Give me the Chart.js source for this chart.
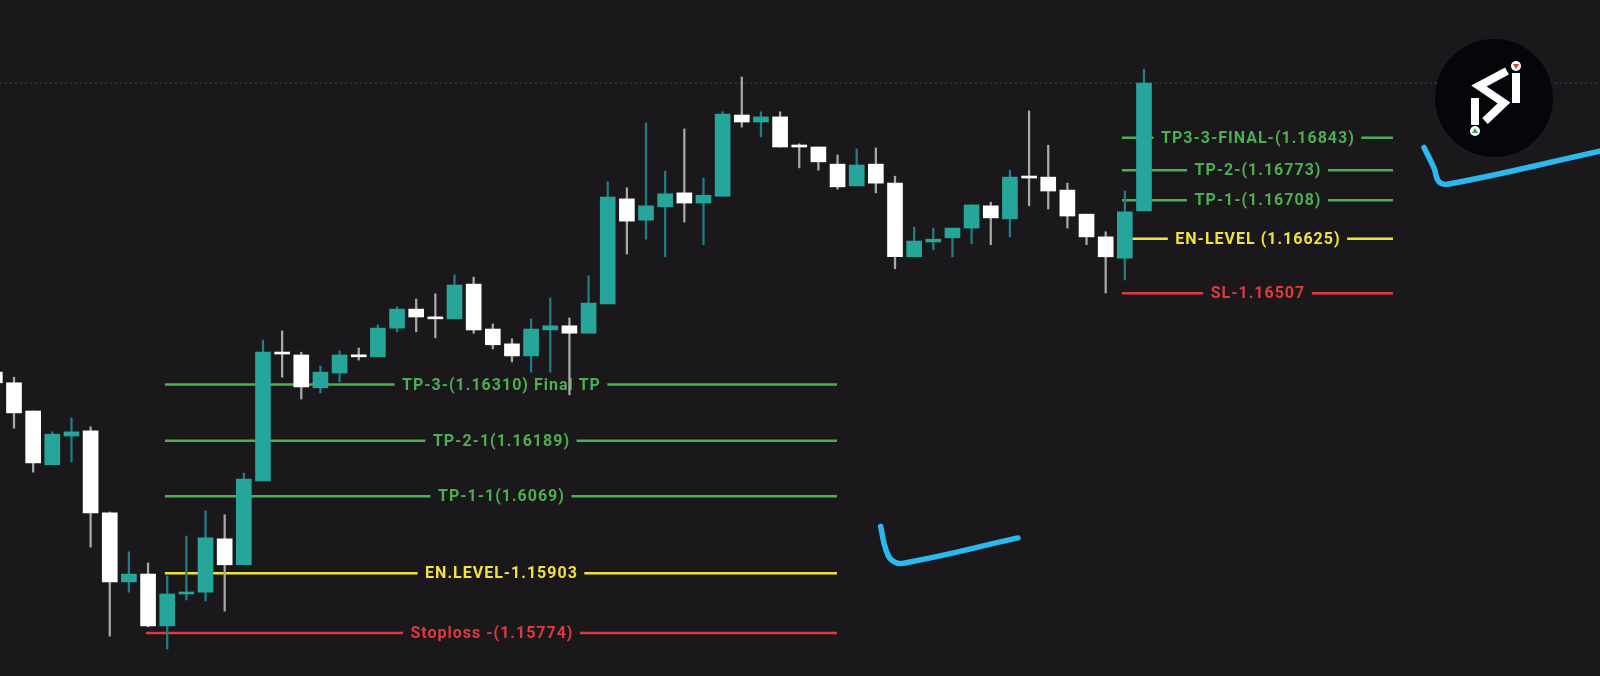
<!DOCTYPE html>
<html>
<head>
    <meta charset="utf-8">
    <title>EURUSD levels</title>
    <script src="https://cdn.jsdelivr.net/npm/chart.js"></script>
    <style>
        html, body { margin: 0; padding: 0; background: #1a181b; }
        .box { width: 1600px; height: 676px; position: relative; }
    </style>
</head>
<body>
    <div class="box">
        <canvas id="priceChart"></canvas>
    </div>
    <script>
        // candles, oldest first (teal = up, white = down)
        const opens  = [1.16337, 1.16314, 1.16253, 1.16137, 1.16199, 1.16210, 1.16033, 1.15884, 1.15901, 1.15789,
                        1.15858, 1.15862, 1.15977, 1.15921, 1.16102, 1.16380, 1.16374, 1.16303, 1.16335, 1.16374,
                        1.16370, 1.16432, 1.16473, 1.16456, 1.16452, 1.16527, 1.16430, 1.16398, 1.16372, 1.16428,
                        1.16437, 1.16421, 1.16484, 1.16711, 1.16665, 1.16694, 1.16724, 1.16702, 1.16717, 1.16892,
                        1.16877, 1.16888, 1.16825, 1.16823, 1.16786, 1.16739, 1.16786, 1.16745, 1.16586, 1.16618,
                        1.16627, 1.16648, 1.16696, 1.16668, 1.16760, 1.16758, 1.16730, 1.16678, 1.16629, 1.16583,
                        1.16685];
        const highs  = [1.16345, 1.16326, 1.16253, 1.16208, 1.16238, 1.16219, 1.16035, 1.15949, 1.15925, 1.15897,
                        1.15983, 1.16037, 1.16029, 1.16119, 1.16406, 1.16426, 1.16380, 1.16350, 1.16383, 1.16389,
                        1.16439, 1.16478, 1.16495, 1.16506, 1.16547, 1.16542, 1.16441, 1.16409, 1.16452, 1.16497,
                        1.16454, 1.16545, 1.16748, 1.16735, 1.16875, 1.16771, 1.16862, 1.16756, 1.16899, 1.16974,
                        1.16899, 1.16899, 1.16830, 1.16823, 1.16806, 1.16819, 1.16821, 1.16760, 1.16650, 1.16648,
                        1.16648, 1.16698, 1.16704, 1.16773, 1.16901, 1.16827, 1.16745, 1.16678, 1.16640, 1.16728,
                        1.16991];
        const lows   = [1.16310, 1.16216, 1.16121, 1.16137, 1.16143, 1.15959, 1.15767, 1.15862, 1.15787, 1.15739,
                        1.15845, 1.15843, 1.15821, 1.15921, 1.16102, 1.16326, 1.16279, 1.16292, 1.16316, 1.16363,
                        1.16370, 1.16424, 1.16424, 1.16411, 1.16452, 1.16421, 1.16387, 1.16359, 1.16337, 1.16337,
                        1.16288, 1.16421, 1.16484, 1.16592, 1.16624, 1.16586, 1.16661, 1.16612, 1.16717, 1.16866,
                        1.16845, 1.16823, 1.16778, 1.16773, 1.16732, 1.16739, 1.16724, 1.16560, 1.16586, 1.16601,
                        1.16586, 1.16614, 1.16612, 1.16629, 1.16696, 1.16689, 1.16648, 1.16612, 1.16508, 1.16536,
                        1.16685];
        const closes = [1.16314, 1.16249, 1.16141, 1.16203, 1.16208, 1.16033, 1.15884, 1.15901, 1.15789, 1.15858,
                        1.15862, 1.15979, 1.15921, 1.16106, 1.16380, 1.16376, 1.16305, 1.16337, 1.16374, 1.16370,
                        1.16432, 1.16473, 1.16456, 1.16452, 1.16525, 1.16428, 1.16396, 1.16372, 1.16430, 1.16437,
                        1.16421, 1.16486, 1.16715, 1.16663, 1.16696, 1.16722, 1.16702, 1.16719, 1.16894, 1.16877,
                        1.16888, 1.16823, 1.16823, 1.16791, 1.16737, 1.16784, 1.16745, 1.16586, 1.16620, 1.16624,
                        1.16648, 1.16698, 1.16670, 1.16758, 1.16756, 1.16728, 1.16674, 1.16629, 1.16586, 1.16683,
                        1.16961];

        // first trade setup (left)
        const leftLevels = [1.16310, 1.16189, 1.16069, 1.15903, 1.15774];
        const leftTexts  = ['TP-3-(1.16310) Final TP', 'TP-2-1(1.16189)', 'TP-1-1(1.6069)', 'EN.LEVEL-1.15903', 'Stoploss -(1.15774)'];
        const leftStart  = [8.88, 8.88, 8.88, 8.88, 7.89];
        const leftEnd    = 43.97;

        // second trade setup (right)
        const rightLevels = [1.16843, 1.16773, 1.16708, 1.16625, 1.16507];
        const rightTexts  = ['TP3-3-FINAL-(1.16843)', 'TP-2-(1.16773)', 'TP-1-(1.16708)', 'EN-LEVEL (1.16625)', 'SL-1.16507'];
        const rightStart  = 58.85;
        const rightEnd    = 73.0;

        const levelKinds = ['tp', 'tp', 'tp', 'entry', 'stop'];

        // hand drawn check marks
        const tick1 = [{x: 46.25, y: 1.16004}, {x: 46.53, y: 1.15953}, {x: 46.89, y: 1.15929}, {x: 47.52, y: 1.15925}, {x: 53.42, y: 1.15979}];
        const tick2 = [{x: 74.62, y: 1.16822}, {x: 75.14, y: 1.16778}, {x: 75.40, y: 1.16748}, {x: 75.92, y: 1.16743}, {x: 83.81, y: 1.16814}];

        const BG = '#1a181b';
        const UP = '#26a69a';
        const DOWN = '#ffffff';
        const kindColor = { tp: '#4caf50', entry: '#f2e23a', stop: '#e0393e' };

        const isUp = i => closes[i] >= opens[i];
        const bodies = opens.map((o, i) => ({ x: i, y: [o, closes[i]] }));
        const wicks = highs.map((h, i) => ({ x: i, y: [lows[i], h] }));

        const levelSets = [];
        leftLevels.forEach((v, i) => {
            levelSets.push({
                type: 'line',
                data: [{ x: leftStart[i], y: v }, { x: leftEnd, y: v }],
                borderColor: kindColor[levelKinds[i]],
                borderWidth: 2.5,
                pointRadius: 0,
                order: 2,
                levelText: leftTexts[i],
                labelAt: (leftStart[i] + leftEnd) / 2
            });
        });
        rightLevels.forEach((v, i) => {
            levelSets.push({
                type: 'line',
                data: [{ x: rightStart, y: v }, { x: rightEnd, y: v }],
                borderColor: kindColor[levelKinds[i]],
                borderWidth: 2.5,
                pointRadius: 0,
                order: 2,
                levelText: rightTexts[i],
                labelAt: (rightStart + rightEnd) / 2
            });
        });

        const lastPrice = closes[closes.length - 1];

        // gap + text on each level line, drawn before the candles
        const levelLabels = {
            id: 'levelLabels',
            afterDatasetDraw(chart, args) {
                const ds = chart.data.datasets[args.index];
                if (!ds.levelText) return;
                const ctx = chart.ctx;
                const x = chart.scales.x.getPixelForValue(ds.labelAt);
                const y = chart.scales.y.getPixelForValue(ds.data[0].y);
                ctx.save();
                ctx.font = 'bold 16px Roboto';
                ctx.letterSpacing = '1px';
                const w = ctx.measureText(ds.levelText).width;
                ctx.fillStyle = BG;
                ctx.fillRect(x - w / 2 - 7, y - 4, w + 14, 8);
                ctx.fillStyle = ds.borderColor;
                ctx.textAlign = 'center';
                ctx.textBaseline = 'middle';
                ctx.fillText(ds.levelText, x + 0.5, y + 1);
                ctx.restore();
            }
        };

        // channel logo, top right
        const logo = {
            id: 'logo',
            afterDraw(chart) {
                const ctx = chart.ctx;
                const cx = chart.width - 106, cy = 98;
                ctx.save();
                ctx.fillStyle = '#05060a';
                ctx.beginPath();
                ctx.arc(cx, cy, 59, 0, Math.PI * 2);
                ctx.fill();
                ctx.fillStyle = '#ffffff';
                ctx.fillRect(cx - 23, cy, 8, 27);
                ctx.fillRect(cx + 18, cy - 25, 8, 30);
                ctx.beginPath(); ctx.arc(cx - 19, cy + 33, 5, 0, Math.PI * 2); ctx.fill();
                ctx.beginPath(); ctx.arc(cx + 22, cy - 32, 5, 0, Math.PI * 2); ctx.fill();
                ctx.strokeStyle = '#ffffff';
                ctx.lineWidth = 8;
                ctx.lineJoin = 'miter';
                ctx.beginPath();
                ctx.moveTo(cx + 13, cy - 27);
                ctx.lineTo(cx - 15, cy - 12);
                ctx.lineTo(cx + 10, cy + 5);
                ctx.lineTo(cx - 9, cy + 23);
                ctx.stroke();
                ctx.fillStyle = '#2aa84a';
                ctx.beginPath(); ctx.moveTo(cx - 19, cy + 30); ctx.lineTo(cx - 22, cy + 35); ctx.lineTo(cx - 16, cy + 35); ctx.fill();
                ctx.fillStyle = '#e53935';
                ctx.beginPath(); ctx.moveTo(cx + 22, cy - 29); ctx.lineTo(cx + 19, cy - 34); ctx.lineTo(cx + 25, cy - 34); ctx.fill();
                ctx.restore();
            }
        };

        const ctx = document.getElementById('priceChart').getContext('2d');
        const priceChart = new Chart(ctx, {
            type: 'bar',
            data: {
                datasets: [
                    {
                        type: 'line',
                        data: tick1,
                        borderColor: '#2db7ef',
                        borderWidth: 5.5,
                        tension: 0.45,
                        pointRadius: 0,
                        borderCapStyle: 'round',
                        order: -1
                    },
                    {
                        type: 'line',
                        data: tick2,
                        borderColor: '#2db7ef',
                        borderWidth: 5.5,
                        tension: 0.45,
                        pointRadius: 0,
                        borderCapStyle: 'round',
                        order: -1
                    },
                    {
                        data: bodies,
                        backgroundColor: c => isUp(c.dataIndex) ? UP : DOWN,
                        barThickness: 15,
                        minBarLength: 2,
                        grouped: false,
                        order: 0
                    },
                    {
                        data: wicks,
                        backgroundColor: c => isUp(c.dataIndex) ? '#1f7e88' : '#a9a9a9',
                        barThickness: 1.6,
                        grouped: false,
                        order: 1
                    },
                    ...levelSets,
                    {
                        type: 'line',
                        data: [{ x: 0, y: lastPrice }, { x: 84, y: lastPrice }],
                        borderColor: 'rgba(38,166,154,0.45)',
                        borderWidth: 1,
                        borderDash: [2, 3],
                        pointRadius: 0,
                        order: 3
                    }
                ]
            },
            options: {
                responsive: true,
                maintainAspectRatio: false,
                animation: false,
                events: [],
                layout: { padding: 0 },
                plugins: { legend: { display: false }, tooltip: { enabled: false } },
                scales: {
                    x: { type: 'linear', min: 0.269, max: 83.81, offset: false, display: false },
                    y: { type: 'linear', min: 1.156809, max: 1.171404, display: false }
                }
            },
            plugins: [levelLabels, logo]
        });
    </script>
</body>
</html>
